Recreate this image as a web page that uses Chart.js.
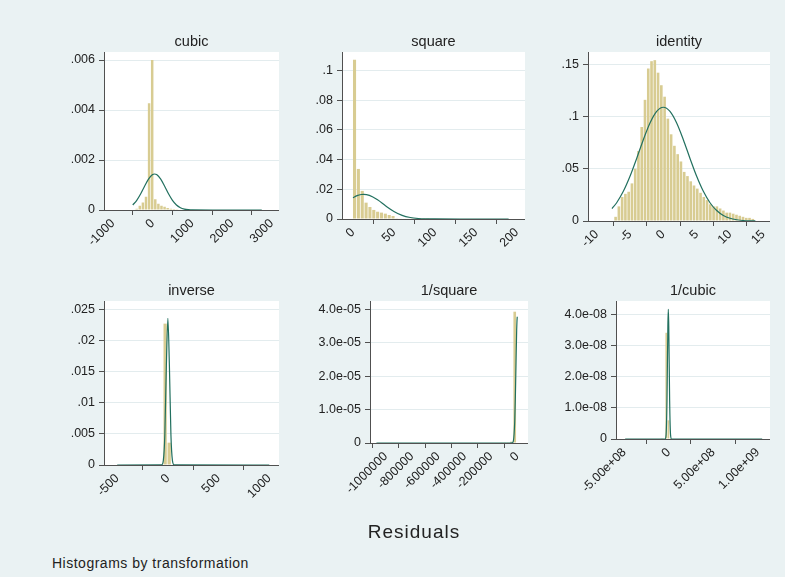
<!DOCTYPE html>
<html>
<head>
<meta charset="utf-8">
<script src="https://cdn.jsdelivr.net/npm/chart.js@4.4.1/dist/chart.umd.min.js"></script>
<style>
  html, body { margin: 0; padding: 0; }
  body { width: 785px; height: 577px; background: #eaf2f3; position: relative; overflow: hidden;
         font-family: "Liberation Sans", Arial, sans-serif; }
  canvas { position: absolute; }
  .lbl { position: absolute; color: #222; white-space: nowrap; }
</style>
</head>
<body>
<canvas id="cubic"></canvas>
<canvas id="square"></canvas>
<canvas id="identity"></canvas>
<canvas id="inverse"></canvas>
<canvas id="invsquare"></canvas>
<canvas id="invcubic"></canvas>
<div class="lbl" style="left:314px; top:521px; width:200px; text-align:center; font-size:19px; line-height:22px; letter-spacing:1px;">Residuals</div>
<div class="lbl" style="left:52px; top:555px; font-size:14px; line-height:16px; letter-spacing:0.5px;">Histograms by transformation</div>
<script>
// ---- cubic ----
const cubicBins = [-401, -323, -245, -167, -89, -11, 67, 145, 223, 301, 379, 457, 535, 613, 691, 769, 847, 925];
const cubicDensity = [0.00005, 0.00017, 0.0003, 0.00053, 0.00427, 0.006, 0.00043, 0.00025, 0.00017, 0.00013,
                      0.00008, 0.00005, 0.00004, 0.00003, 0.00002, 0.00002, 0.00001, 0.00001];
const cubicCurveX = [-500, -400, -300, -200, -100, 0, 50, 100, 200, 300, 400, 500, 600, 700, 800, 900, 1000, 1500, 2000, 2750];
const cubicCurveY = [0.0002, 0.000385, 0.000648, 0.000959, 0.001244, 0.001417, 0.00144, 0.001417, 0.001244, 0.000959,
                     0.000648, 0.000385, 0.0002, 0.000092, 0.000037, 0.000013, 0.000004, 0, 0, 0];
const cubicXTicks = [-1000, 0, 1000, 2000, 3000];
const cubicXLabels = ['-1000', '0', '1000', '2000', '3000'];
const cubicYTicks = [0, 0.002, 0.004, 0.006];
const cubicYLabels = ['0', '.002', '.004', '.006'];

// ---- square ----
const squareBins = [1.9, 6.6, 11.3, 16.0, 20.7, 25.4, 30.1, 34.8, 39.5, 44.2, 48.9, 53.6, 58.3, 63.0, 67.7, 72.4, 77.1, 81.8, 86.5, 91.2];
const squareDensity = [0.1072, 0.0337, 0.0189, 0.011, 0.0081, 0.0061, 0.0049, 0.0043, 0.0036, 0.0027, 0.002,
                       0.0005, 0.0004, 0.0003, 0.0003, 0.0002, 0.0002, 0.0001, 0.0001, 0.0001];
const squareCurveX = [0, 5, 10, 13, 20, 30, 40, 50, 60, 70, 80, 90, 100, 150, 190];
const squareCurveY = [0.01435, 0.0157, 0.01647, 0.0166, 0.0159, 0.0129, 0.0088, 0.0051, 0.00244, 0.00099, 0.00034, 0.0001, 0.00002, 0, 0];
const squareXTicks = [0, 50, 100, 150, 200];
const squareXLabels = ['0', '50', '100', '150', '200'];
const squareYTicks = [0, 0.02, 0.04, 0.06, 0.08, 0.1];
const squareYLabels = ['0', '.02', '.04', '.06', '.08', '.1'];

// ---- identity ----
const identityBins = [-7.16, -6.67, -6.18, -5.69, -5.20, -4.71, -4.22, -3.73, -3.24, -2.75, -2.26, -1.77, -1.28, -0.79,
                      -0.30, 0.19, 0.68, 1.17, 1.66, 2.15, 2.64, 3.13, 3.62, 4.11, 4.60, 5.09, 5.58, 6.07, 6.56,
                      7.05, 7.54, 8.03, 8.52, 9.01, 9.50, 9.99, 10.48, 10.97, 11.46, 11.95, 12.44, 12.93, 13.42];
const identityDensity = [0.004, 0.014, 0.023, 0.026, 0.028, 0.036, 0.05, 0.067, 0.09, 0.116, 0.146, 0.153, 0.154, 0.142,
                         0.13, 0.119, 0.098, 0.083, 0.072, 0.064, 0.057, 0.047, 0.043, 0.038, 0.034, 0.031, 0.027, 0.023, 0.02,
                         0.016, 0.014, 0.014, 0.012, 0.01, 0.008, 0.008, 0.007, 0.006, 0.005, 0.004, 0.003, 0.003, 0.002];
const identityCurveX = [-7.7, -7, -6, -5, -4, -3, -2, -1, 0, 1, 2, 3, 4, 5, 6, 7, 8, 9, 10, 11, 12, 13, 13.8];
const identityCurveY = [0.0119, 0.0175, 0.0284, 0.0428, 0.0599, 0.0778, 0.0938, 0.1049, 0.1089, 0.1049, 0.0938, 0.0778,
                        0.0599, 0.0428, 0.0284, 0.0175, 0.01, 0.0053, 0.0026, 0.0012, 0.0005, 0.0002, 0.0001];
const identityXTicks = [-10, -5, 0, 5, 10, 15];
const identityXLabels = ['-10', '-5', '0', '5', '10', '15'];
const identityYTicks = [0, 0.05, 0.1, 0.15];
const identityYLabels = ['0', '.05', '.1', '.15'];

// ---- inverse ----
const inverseBins = [-67, -27, 13, 53];
const inverseDensity = [0.0001, 0.0228, 0.0036, 0.0001];
const inverseCurveX = [-500, -60, -45, -30, -15, 0, 15, 30, 45, 60, 1000];
const inverseCurveY = [0, 0.00004, 0.0007, 0.0049, 0.016, 0.02366, 0.016, 0.0049, 0.0007, 0.00004, 0];
const inverseXTicks = [-500, 0, 500, 1000];
const inverseXLabels = ['-500', '0', '500', '1000'];
const inverseYTicks = [0, 0.005, 0.01, 0.015, 0.02, 0.025];
const inverseYLabels = ['0', '.005', '.01', '.015', '.02', '.025'];

// ---- 1/square ----
const invsquareBins = [-119800, -94800, -69800, -44800, -19800];
const invsquareDensity = [1e-7, 1e-7, 2e-7, 4e-7, 3.93e-5];
const invsquareCurveX = [-1070000, -60000, -40000, -30000, -20000, -15000, -10000, -5000, -1000, 0];
const invsquareCurveY = [0, 0, 2.8e-8, 6.7e-7, 6.3e-6, 1.38e-5, 2.41e-5, 3.38e-5, 3.76e-5, 3.78e-5];
const invsquareXTicks = [-1000000, -800000, -600000, -400000, -200000, 0];
const invsquareXLabels = ['-1000000', '-800000', '-600000', '-400000', '-200000', '0'];
const invsquareYTicks = [0, 1e-5, 2e-5, 3e-5, 4e-5];
const invsquareYLabels = ['0', '1.0e-05', '2.0e-05', '3.0e-05', '4.0e-05'];

// ---- 1/cubic ----
const invcubicBins = [-76000000, -52000000, -28000000, -4000000, 20000000];
const invcubicDensity = [1e-10, 2e-10, 3.41e-8, 6e-9, 1e-10];
const invcubicCurveX = [-490000000, -40000000, -30000000, -20000000, -10000000, -5000000, 0, 10000000, 20000000, 30000000, 1050000000];
const invcubicCurveY = [0, 0, 1.4e-9, 1.22e-8, 3.63e-8, 4.16e-8, 3.63e-8, 1.22e-8, 1.4e-9, 0, 0];
const invcubicXTicks = [-500000000, 0, 500000000, 1000000000];
const invcubicXLabels = ['-5.00e+08', '0', '5.00e+08', '1.00e+09'];
const invcubicYTicks = [0, 1e-8, 2e-8, 3e-8, 4e-8];
const invcubicYLabels = ['0', '1.0e-08', '2.0e-08', '3.0e-08', '4.0e-08'];

// styling
const FONT = '"Liberation Sans", Arial, sans-serif';
const BAR = 'rgb(216,204,146)';
const CURVE = '#22705f';
const AXIS = '#505050';
const GRID = '#e3ecee';
const TXT = '#222';
const YW = 70;   // y-axis box width
const TH = 19;   // title box height
const XH = 60;   // x-axis box height

const plotBg = {
  id: 'plotBg',
  beforeDraw(chart) {
    const a = chart.chartArea, c = chart.ctx;
    c.save();
    c.fillStyle = '#ffffff';
    c.fillRect(a.left, a.top, a.right - a.left, a.bottom - a.top);
    c.restore();
  }
};

function makePanel(p) {
  const cv = document.getElementById(p.id);
  const left = p.L - YW, top = p.T - TH;
  cv.width = p.R - left;
  cv.height = p.B + XH - top;
  cv.style.left = left + 'px';
  cv.style.top = top + 'px';
  const tickFont = { family: FONT, size: 12.5 };
  new Chart(cv, {
    type: 'bar',
    data: {
      datasets: [
        { type: 'line', data: p.cx.map((x, i) => ({ x: x, y: p.cy[i] })), borderColor: CURVE, borderWidth: 1.2,
          pointRadius: 0, cubicInterpolationMode: 'monotone', fill: false, order: 0 },
        { type: 'bar', data: p.bx.map((x, i) => ({ x: x, y: p.by[i] })), backgroundColor: BAR, borderWidth: 0,
          categoryPercentage: 1, barPercentage: 0.8, order: 1 }
      ]
    },
    options: {
      responsive: false,
      animation: false,
      events: [],
      layout: { padding: 0 },
      plugins: {
        legend: { display: false },
        tooltip: { enabled: false },
        title: { display: true, text: p.title, fullSize: false, color: TXT,
                 font: { family: FONT, size: 14.5, weight: 'normal' }, padding: { top: 0, bottom: 1.6 } }
      },
      scales: {
        x: {
          type: 'linear', min: p.xMin, max: p.xMax, offset: false,
          afterBuildTicks: s => { s.ticks = p.xt.map(v => ({ value: v })); },
          afterFit: s => { s.height = XH; s.paddingLeft = 0; s.paddingRight = 0; },
          grid: { display: true, drawOnChartArea: false, drawTicks: true, tickLength: 5, tickColor: AXIS },
          border: { display: true, color: AXIS, width: 1 },
          ticks: { autoSkip: false, minRotation: 45, maxRotation: 45, padding: 1, color: TXT, font: tickFont,
                   callback: (v, i) => p.xl[i] }
        },
        y: {
          type: 'linear', min: 0, max: p.yMax,
          afterBuildTicks: s => { s.ticks = p.yt.map(v => ({ value: v })); },
          afterFit: s => { s.width = YW; s.paddingTop = 0; s.paddingBottom = 0; },
          grid: { color: GRID, tickColor: AXIS, tickLength: 5, drawTicks: true },
          border: { display: true, color: AXIS, width: 1 },
          ticks: { autoSkip: false, padding: 4, color: TXT, font: tickFont, callback: (v, i) => p.yl[i] }
        }
      }
    },
    plugins: [plotBg]
  });
}

makePanel({ id: 'cubic', title: 'cubic', L: 104, R: 279, T: 52, B: 210, xMin: -1225, xMax: 3184, yMax: 0.00632,
  bx: cubicBins, by: cubicDensity, cx: cubicCurveX, cy: cubicCurveY,
  xt: cubicXTicks, xl: cubicXLabels, yt: cubicYTicks, yl: cubicYLabels });
makePanel({ id: 'square', title: 'square', L: 342, R: 525, T: 52, B: 219, xMin: -13.4, xMax: 210, yMax: 0.1124,
  bx: squareBins, by: squareDensity, cx: squareCurveX, cy: squareCurveY,
  xt: squareXTicks, xl: squareXLabels, yt: squareYTicks, yl: squareYLabels });
makePanel({ id: 'identity', title: 'identity', L: 588, R: 770, T: 52, B: 221, xMin: -11.3, xMax: 16, yMax: 0.1618,
  bx: identityBins, by: identityDensity, cx: identityCurveX, cy: identityCurveY,
  xt: identityXTicks, xl: identityXLabels, yt: identityYTicks, yl: identityYLabels });
makePanel({ id: 'inverse', title: 'inverse', L: 104, R: 279, T: 301, B: 465, xMin: -630, xMax: 1096, yMax: 0.02645,
  bx: inverseBins, by: inverseDensity, cx: inverseCurveX, cy: inverseCurveY,
  xt: inverseXTicks, xl: inverseXLabels, yt: inverseYTicks, yl: inverseYLabels });
makePanel({ id: 'invsquare', title: '1/square', L: 370, R: 528, T: 301, B: 443, xMin: -1119000, xMax: 81000, yMax: 4.25e-5,
  bx: invsquareBins, by: invsquareDensity, cx: invsquareCurveX, cy: invsquareCurveY,
  xt: invsquareXTicks, xl: invsquareXLabels, yt: invsquareYTicks, yl: invsquareYLabels });
makePanel({ id: 'invcubic', title: '1/cubic', L: 616, R: 770, T: 301, B: 439, xMin: -593000000, xMax: 1138000000, yMax: 4.43e-8,
  bx: invcubicBins, by: invcubicDensity, cx: invcubicCurveX, cy: invcubicCurveY,
  xt: invcubicXTicks, xl: invcubicXLabels, yt: invcubicYTicks, yl: invcubicYLabels });
</script>
</body>
</html>
